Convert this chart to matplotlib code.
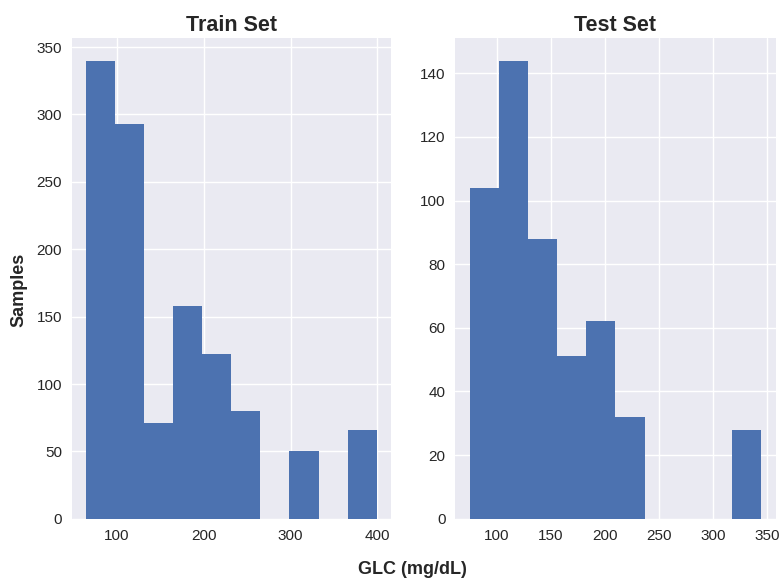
import numpy as np
import matplotlib.pyplot as plt

# histogram bins and counts
train_edges = [65, 98.4, 131.8, 165.2, 198.6, 232, 265.4, 298.8, 332.2, 365.6, 399]
train_counts = [340, 293, 71, 158, 122, 80, 0, 50, 0, 66]

test_edges = [75, 101.9, 128.8, 155.7, 182.6, 209.5, 236.4, 263.3, 290.2, 317.1, 344]
test_counts = [104, 144, 88, 51, 62, 32, 0, 0, 0, 28]

plt.style.use('seaborn-v0_8')
plt.rcParams['font.family'] = ['Liberation Sans', 'DejaVu Sans']

fig = plt.figure(figsize=(7.83, 5.79), dpi=100)
ax1 = fig.add_axes([0.0916, 0.104, 0.4995 - 0.0916, 0.935 - 0.104])
ax2 = fig.add_axes([0.5815, 0.104, 0.9905 - 0.5815, 0.935 - 0.104])

for ax, edges, counts, title in [(ax1, train_edges, train_counts, 'Train Set'),
                                  (ax2, test_edges, test_counts, 'Test Set')]:
    edges = np.array(edges)
    centers = (edges[:-1] + edges[1:]) / 2
    ax.hist(centers, bins=edges, weights=counts, color='#4C72B0', linewidth=0)
    ax.set_title(title, fontsize=15.5, fontweight='bold', pad=5)
    ax.tick_params(labelsize=11)

ax1.set_xticks([100, 200, 300, 400])
ax2.set_xticks([100, 150, 200, 250, 300, 350])

fig.text(0.527, 0.009, 'GLC (mg/dL)', ha='center', fontsize=13, fontweight='bold')
fig.text(0.013, 0.5, 'Samples', va='center', rotation=90, fontsize=13, fontweight='bold')

plt.savefig('out.png', dpi=100)
